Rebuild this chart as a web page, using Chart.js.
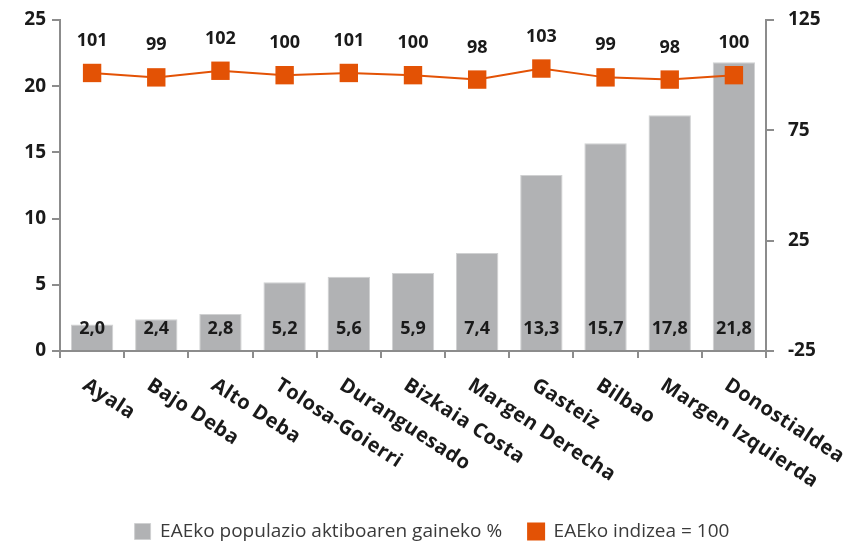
<!DOCTYPE html>
<html>
<head>
<meta charset="utf-8">
<script src="https://cdn.jsdelivr.net/npm/chart.js@4.4.0/dist/chart.umd.min.js"></script>
<style>
  html, body { margin: 0; padding: 0; background: #fff; }
  #wrap { width: 864px; height: 543px; }
</style>
</head>
<body>
<div id="wrap"><canvas id="grafico" width="864" height="543"></canvas></div>
<script>
const categorias = ["Ayala", "Bajo Deba", "Alto Deba", "Tolosa-Goierri", "Duranguesado", "Bizkaia Costa",
  "Margen Derecha", "Gasteiz", "Bilbao", "Margen Izquierda", "Donostialdea"];
const porcentajes = [2.0, 2.4, 2.8, 5.2, 5.6, 5.9, 7.4, 13.3, 15.7, 17.8, 21.8];
const indices = [101, 99, 102, 100, 101, 100, 98, 103, 99, 98, 100];
const ticksIzq = [0, 5, 10, 15, 20, 25];
const ticksDer = [-25, 25, 75, 125];

const FUENTE = "'Open Sans', sans-serif";
const GRIS = "#b1b2b4";
const NARANJA = "#e35205";
const EJE = "#8c8c8c";

// etiquetas: valores y categorias giradas
const etiquetasPlugin = {
  id: "etiquetas",
  afterDatasetsDraw(chart) {
    const ctx = chart.ctx;
    const x = chart.scales.x;
    const y = chart.scales.y;
    const y1 = chart.scales.y1;
    ctx.save();
    ctx.fillStyle = "#1a1a1a";
    ctx.font = "bold 18px " + FUENTE;
    ctx.textAlign = "center";
    ctx.textBaseline = "middle";
    porcentajes.forEach((v, i) => {
      ctx.fillText(v.toFixed(1).replace(".", ","), x.getPixelForValue(i), y.getPixelForValue(0) - 22);
    });
    indices.forEach((v, i) => {
      ctx.fillText(String(v), x.getPixelForValue(i), y1.getPixelForValue(v) - 32);
    });
    ctx.font = "bold 20px " + FUENTE;
    ctx.letterSpacing = "0.5px";
    ctx.textAlign = "left";
    ctx.textBaseline = "top";
    categorias.forEach((c, i) => {
      ctx.save();
      ctx.translate(x.getPixelForValue(i) - 2, x.top + 24);
      ctx.rotate(33 * Math.PI / 180);
      ctx.fillText(c, 0, 0);
      ctx.restore();
    });
    ctx.restore();
  }
};

new Chart("grafico", {
  data: {
    labels: categorias,
    datasets: [
      {
        type: "line",
        label: "EAEko indizea = 100",
        data: indices,
        yAxisID: "y1",
        borderColor: NARANJA,
        backgroundColor: NARANJA,
        borderWidth: 2,
        pointStyle: "rect",
        pointRadius: 13,
        pointHoverRadius: 13,
        pointBackgroundColor: NARANJA,
        pointBorderWidth: 0,
        order: 0
      },
      {
        type: "bar",
        label: "EAEko populazio aktiboaren gaineko %",
        data: porcentajes,
        yAxisID: "y",
        backgroundColor: GRIS,
        borderColor: "#d0d1d2",
        borderWidth: 1,
        barPercentage: 0.66,
        categoryPercentage: 1,
        order: 1
      }
    ]
  },
  options: {
    responsive: false,
    animation: false,
    layout: { autoPadding: false, padding: { top: 20, left: 0, right: 0, bottom: -8 } },
    plugins: {
      tooltip: { enabled: false },
      legend: {
        position: "bottom",
        labels: {
          boxWidth: 16,
          boxHeight: 16,
          padding: 26,
          color: "#3a3a3a",
          font: { family: FUENTE, size: 19 }
        },
        reverse: true
      }
    },
    scales: {
      x: {
        offset: true,
        grid: {
          offset: true,
          drawOnChartArea: false,
          color: EJE,
          lineWidth: 2,
          tickLength: 7
        },
        border: { color: EJE, width: 2 },
        ticks: { display: false },
        afterFit(s) { s.height = 145; }
      },
      y: {
        position: "left",
        min: 0,
        max: 25,
        afterBuildTicks(s) { s.ticks = ticksIzq.map(v => ({ value: v })); },
        grid: { drawOnChartArea: false, color: EJE, lineWidth: 2, tickLength: 8 },
        border: { color: EJE, width: 2 },
        ticks: { color: "#1a1a1a", font: { family: FUENTE, size: 19, weight: "bold" }, padding: 6 },
        afterFit(s) { s.width = 60; s.paddingTop = 0; s.paddingBottom = 0; }
      },
      y1: {
        position: "right",
        min: -25,
        max: 125,
        afterBuildTicks(s) { s.ticks = ticksDer.map(v => ({ value: v })); },
        grid: { drawOnChartArea: false, color: EJE, lineWidth: 2, tickLength: 8 },
        border: { color: EJE, width: 2 },
        ticks: { color: "#1a1a1a", font: { family: FUENTE, size: 19, weight: "bold" }, padding: 14 },
        afterFit(s) { s.width = 98; s.paddingTop = 0; s.paddingBottom = 0; }
      }
    }
  },
  plugins: [etiquetasPlugin]
});
</script>
</body>
</html>
